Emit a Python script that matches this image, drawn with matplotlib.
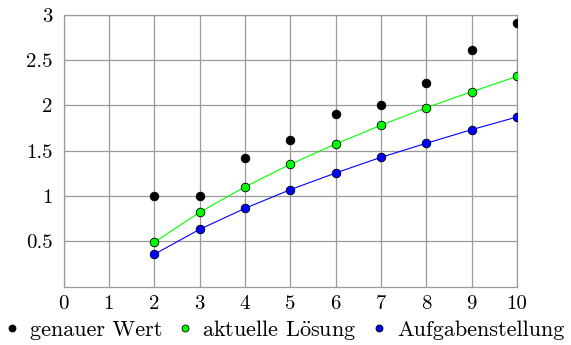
import numpy as np
import matplotlib
matplotlib.use("Agg")
import matplotlib.pyplot as plt

plt.rcParams['font.family'] = ['cmr10', 'DejaVu Serif']
plt.rcParams['mathtext.fontset'] = 'cm'
plt.rcParams['axes.formatter.use_mathtext'] = True

x = [2, 3, 4, 5, 6, 7, 8, 9, 10]
exact = [1.0, 1.0, 1.414, 1.618, 1.905, 2.0, 2.25, 2.615, 2.913]
current = [0.489, 0.82, 1.10, 1.35, 1.574, 1.78, 1.975, 2.15, 2.32]
task = [0.357, 0.632, 0.864, 1.07, 1.254, 1.427, 1.582, 1.732, 1.872]

xticks = list(range(0, 11))
yticks = [0.5, 1, 1.5, 2, 2.5, 3]
ytick_labels = ["0.5", "1", "1.5", "2", "2.5", "3"]
labels = ["genauer Wert", "aktuelle L$\\ddot{\\mathrm{o}}$sung", "Aufgabenstellung"]

fig = plt.figure(figsize=(5.71, 3.45), dpi=100)
ax = fig.add_axes([63.5/571, 1-286.7/345, (517-63.5)/571, (286.7-14.7)/345])

gc = '#9a9a9a'
ax.plot(x, exact, 'o', color='black', ms=6.2, mec='black', mew=0.6, label=labels[0], zorder=3)
ax.plot(x, current, '-o', color='#00ff00', lw=0.8, ms=6.2, mfc='#00ff00', mec='black', mew=0.6,
        label=labels[1], zorder=3)
ax.plot(x, task, '-o', color='#0000ff', lw=0.8, ms=6.2, mfc='#0000ff', mec='black', mew=0.6,
        label=labels[2], zorder=3)

ax.set_xlim(0, 10)
ax.set_ylim(0, 3)
ax.set_xticks(xticks)
ax.set_xticklabels([str(t) for t in xticks])
ax.set_yticks(yticks)
ax.set_yticklabels(ytick_labels)
ax.grid(True, color=gc, lw=0.9)
ax.tick_params(length=0, labelsize=15)
ax.tick_params(axis='x', pad=6)
ax.tick_params(axis='y', pad=8)
for s in ax.spines.values():
    s.set_color(gc)
    s.set_linewidth(0.9)

leg_handles = [plt.Line2D([], [], ls='none', marker='o', ms=5, mfc=c, mec='black', mew=0.6)
               for c in ['black', '#00ff00', '#0000ff']]
fig.legend(leg_handles, labels, loc='center', bbox_to_anchor=(0.5, 1-330/345), ncol=3,
           frameon=False, fontsize=16, handlelength=0.5, handletextpad=0.55, columnspacing=0.75)

fig.savefig('out.png', dpi=100)
